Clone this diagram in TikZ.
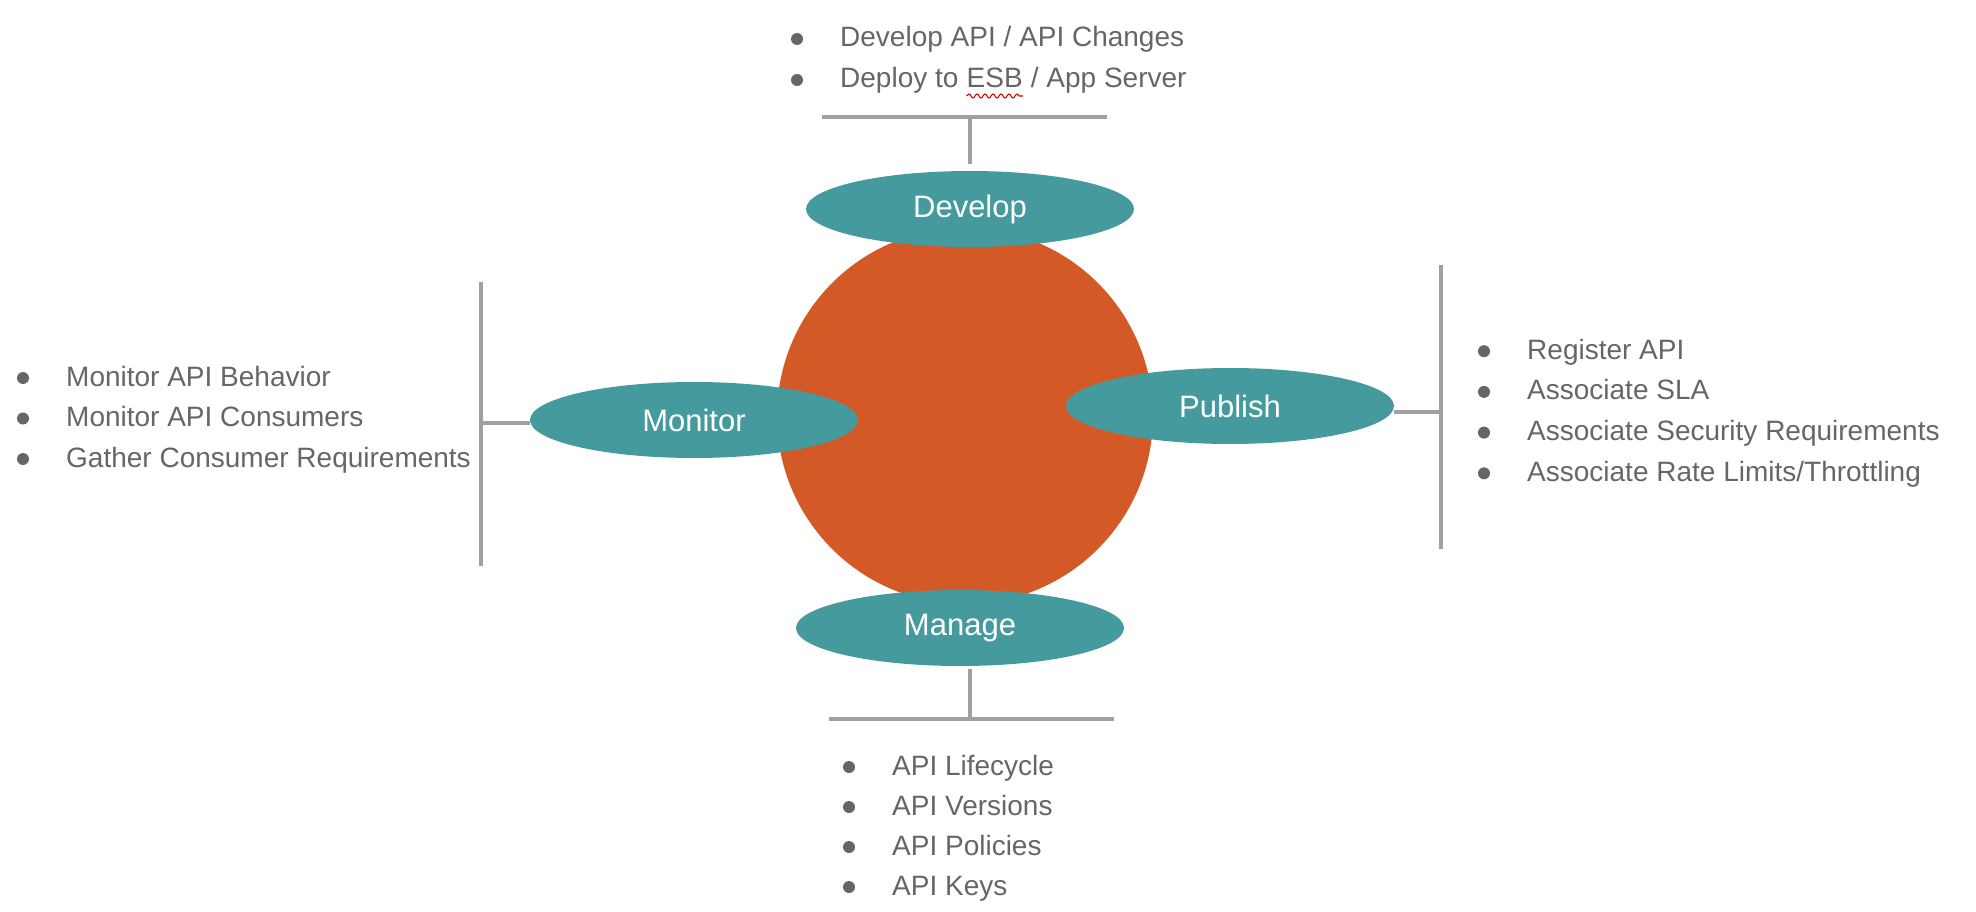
\documentclass[tikz,border=0pt]{standalone}
\usepackage{fontspec}
\setmainfont{Liberation Sans}
\usetikzlibrary{positioning,shapes.geometric,decorations.pathmorphing}
\definecolor{lcteal}{HTML}{459A9E}
\definecolor{lcorange}{HTML}{D35A27}
\definecolor{lcline}{HTML}{A0A0A0}
\definecolor{lctext}{HTML}{666666}
\tikzset{
  phase/.style={ellipse, fill=lcteal, minimum width=328pt, minimum height=76pt,
    inner sep=0pt, text=white, font=\fontsize{31}{31}\selectfont},
  item/.style={anchor=base west, inner sep=0pt, text=lctext,
    font=\fontsize{28}{28}\selectfont},
  bar/.style={draw=lcline, line width=4pt},
  dot/.style={fill=lctext}
}
\begin{document}
\begin{tikzpicture}[x=1pt, y=-1pt]
  \useasboundingbox (0,0) rectangle (1976,912);

  % Lifecycle
  \fill[lcorange] (965,416) circle[radius=188pt];
  \node[phase] (develop) at (970,209) {Develop};
  \node[phase] (manage) at (960,628) {Manage};
  \node[phase] (monitor) at (694,420) {Monitor};
  \node[phase] (publish) at (1230,406) {Publish};

  % Develop
  \coordinate (devL) at (822,117);
  \coordinate (devR) at (1107,117);
  \draw[bar] (devL) -- (devR);
  \draw[bar, shorten <=7pt] (develop.north) -- (develop.north |- devL);
  \node[item] (dev1) at (840,47) {Develop API / API Changes};
  \node[item] (dev2) at (840,88) {Deploy to};
  \node[item] (esb) at ([xshift=7.8pt]dev2.base east) {ESB};
  \node[item] (dev3) at ([xshift=7.8pt]esb.base east) {/ App Server};
  \draw[red!85!black, line width=1.1pt, decorate,
    decoration={snake, amplitude=2pt, segment length=8pt}]
    ([yshift=-8pt]esb.base west) -- ([yshift=-8pt]esb.base east);
  \foreach \n in {dev1,dev2}
    \fill[dot] ([xshift=-43pt,yshift=8pt]\n.base west) circle[radius=6pt];

  % Manage
  \coordinate (manL) at (829,719);
  \coordinate (manR) at (1114,719);
  \coordinate (manS) at (970,719);
  \draw[bar] (manL) -- (manR);
  \draw[bar, shorten <=3pt] (manS |- manage.south) -- (manS);
  \foreach \t [count=\i] in {API Lifecycle, API Versions, API Policies, API Keys} {
    \node[item] (man\i) at (892,735+40*\i) {\t};
    \fill[dot] ([xshift=-43pt,yshift=8pt]man\i.base west) circle[radius=6pt];
  }

  % Monitor
  \coordinate (monT) at (481,282);
  \coordinate (monB) at (481,566);
  \draw[bar] (monT) -- (monB);
  \draw[bar] ([yshift=-3pt]monitor.west) -- ([yshift=-3pt]monitor.west -| monT);
  \foreach \t [count=\i] in {Monitor API Behavior, Monitor API Consumers,
      Gather Consumer Requirements} {
    \node[item] (mon\i) at (66,345.5+40.5*\i) {\t};
    \fill[dot] ([xshift=-43pt,yshift=8pt]mon\i.base west) circle[radius=6pt];
  }

  % Publish
  \coordinate (pubT) at (1441,265);
  \coordinate (pubB) at (1441,549);
  \draw[bar] (pubT) -- (pubB);
  \draw[bar] ([yshift=-6pt]publish.east) -- ([yshift=-6pt]publish.east -| pubT);
  \foreach \t [count=\i] in {Register API, Associate SLA,
      Associate Security Requirements, Associate Rate Limits/Throttling} {
    \node[item] (pub\i) at (1527,318.5+40.7*\i) {\t};
    \fill[dot] ([xshift=-43pt,yshift=8pt]pub\i.base west) circle[radius=6pt];
  }
\end{tikzpicture}
\end{document}
